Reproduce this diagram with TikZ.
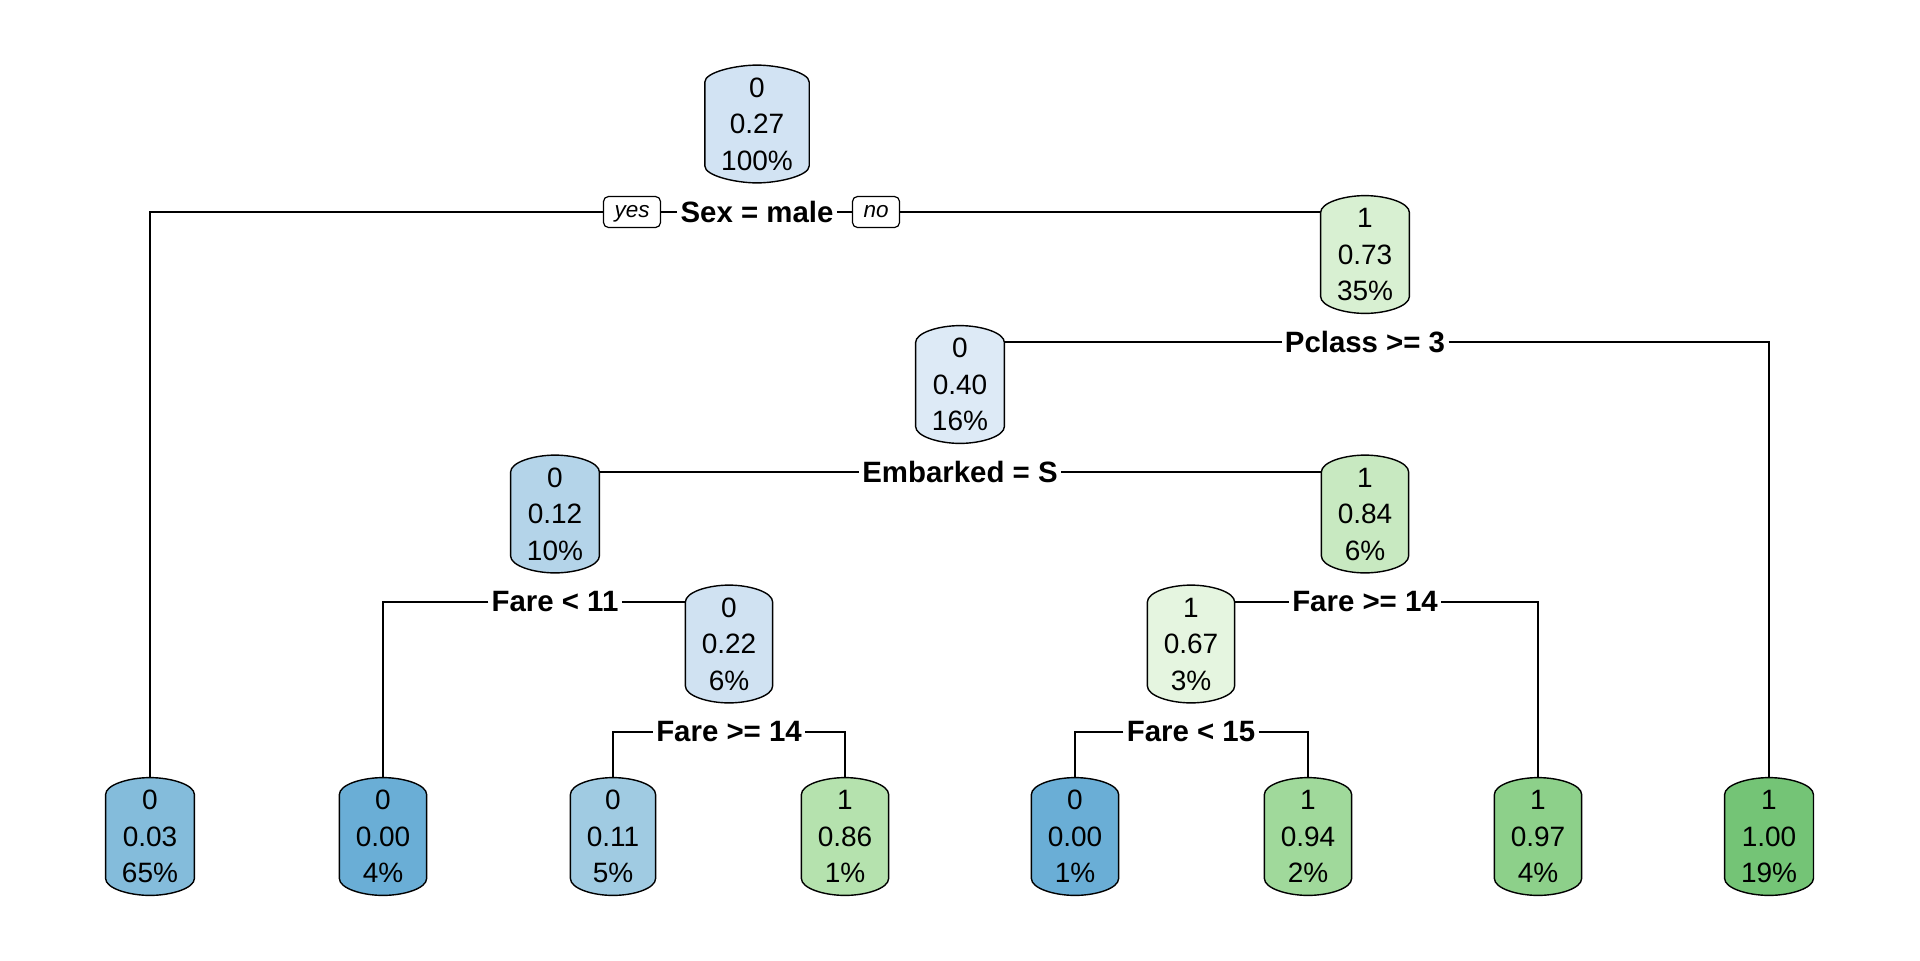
\documentclass[tikz,border=0pt]{standalone}
\usepackage{fontspec}
\setmainfont{Liberation Sans}
\pgfdeclarelayer{lines}
\pgfdeclarelayer{shapes}
\pgfsetlayers{lines,shapes,main}
\definecolor{cA}{HTML}{D2E3F3}
\definecolor{cB}{HTML}{D8F0D2}
\definecolor{cC}{HTML}{DDEAF6}
\definecolor{cD}{HTML}{B4D4E9}
\definecolor{cE}{HTML}{C8E9C1}
\definecolor{cF}{HTML}{D0E2F2}
\definecolor{cG}{HTML}{E5F5E0}
\definecolor{lA}{HTML}{84BCDB}
\definecolor{lB}{HTML}{6AAED6}
\definecolor{lC}{HTML}{A0CBE2}
\definecolor{lD}{HTML}{B5E2AE}
\definecolor{lE}{HTML}{A0D99B}
\definecolor{lF}{HTML}{8DD08A}
\definecolor{lG}{HTML}{74C476}
\tikzset{
  rbox/.style={inner xsep=8pt, inner ysep=0pt, minimum height=58.5pt, align=center,
    font=\fontsize{14}{18.25}\selectfont},
  splitlab/.style={fill=white, inner xsep=1.5pt, inner ysep=1pt,
    font=\fontsize{14.7}{17}\selectfont\bfseries},
  yn/.style={draw, fill=white, rounded corners=2.5pt, line width=0.6pt,
    font=\fontsize{11.25}{13}\selectfont\itshape, minimum height=15.5pt,
    text height=5.8pt, text depth=0pt,
    inner xsep=5.5pt, inner ysep=0pt},
  edge/.style={line width=0.7pt},
  cyl/.style={draw=black, line width=0.7pt, fill=#1},
}
\newcommand\cylshape[2]{%
  \path[cyl=#2] ([yshift=-8.5pt]#1.north west)
    .. controls ([yshift=-3.5pt]#1.north west) and ([xshift=-10.5pt]#1.north) .. (#1.north)
    .. controls ([xshift=10.5pt]#1.north) and ([yshift=-3.5pt]#1.north east) .. ([yshift=-8.5pt]#1.north east)
    -- ([yshift=8.5pt]#1.south east)
    .. controls ([yshift=3.5pt]#1.south east) and ([xshift=10.5pt]#1.south) .. (#1.south)
    .. controls ([xshift=-10.5pt]#1.south) and ([yshift=3.5pt]#1.south west) .. ([yshift=8.5pt]#1.south west)
    -- cycle;}
\begin{document}
\begin{tikzpicture}[x=0.5pt, y=-0.5pt]
\useasboundingbox (0,0) rectangle (1920,960);
% inner nodes
\node[rbox] (root) at (757,124) {0\\0.27\\100\%};
\node[rbox] (n073) at (1365,254.5) {1\\0.73\\35\%};
\node[rbox] (n040) at (960,384.5) {0\\0.40\\16\%};
\node[rbox] (n012) at (555,514) {0\\0.12\\10\%};
\node[rbox] (n084) at (1365,514) {1\\0.84\\6\%};
\node[rbox] (n022) at (729,644) {0\\0.22\\6\%};
\node[rbox] (n067) at (1191,644) {1\\0.67\\3\%};
% leaves
\node[rbox] (l1) at (150,836.5) {0\\0.03\\65\%};
\node[rbox] (l2) at (383,836.5) {0\\0.00\\4\%};
\node[rbox] (l3) at (613,836.5) {0\\0.11\\5\%};
\node[rbox] (l4) at (845,836.5) {1\\0.86\\1\%};
\node[rbox] (l5) at (1075,836.5) {0\\0.00\\1\%};
\node[rbox] (l6) at (1308,836.5) {1\\0.94\\2\%};
\node[rbox] (l7) at (1538,836.5) {1\\0.97\\4\%};
\node[rbox] (l8) at (1769,836.5) {1\\1.00\\19\%};
% split labels
\node[splitlab] (s1) at (757,212) {Sex = male};
\node[splitlab] (s2) at (1365,342) {Pclass >= 3};
\node[splitlab] (s3) at (960,472) {Embarked = S};
\node[splitlab] (s4) at (555,602) {Fare < 11};
\node[splitlab] (s5) at (1365,602) {Fare >= 14};
\node[splitlab] (s6) at (729,732) {Fare >= 14};
\node[splitlab] (s7) at (1191,732) {Fare < 15};
\node[yn] (yes) at (632,212) {yes};
\node[yn] (no) at (876,212) {no};
% shapes
\begin{pgfonlayer}{shapes}
\cylshape{root}{cA}
\cylshape{n073}{cB}
\cylshape{n040}{cC}
\cylshape{n012}{cD}
\cylshape{n084}{cE}
\cylshape{n022}{cF}
\cylshape{n067}{cG}
\cylshape{l1}{lA}
\cylshape{l2}{lB}
\cylshape{l3}{lC}
\cylshape{l4}{lD}
\cylshape{l5}{lB}
\cylshape{l6}{lE}
\cylshape{l7}{lF}
\cylshape{l8}{lG}
\end{pgfonlayer}
% connectors
\begin{pgfonlayer}{lines}
\draw[edge] (s1.west) -| (l1.north);
\draw[edge] (s1.east) -| (n073.north);
\draw[edge] (s2.west) -| (n040.north);
\draw[edge] (s2.east) -| (l8.north);
\draw[edge] (s3.west) -| (n012.north);
\draw[edge] (s3.east) -| (n084.north);
\draw[edge] (s4.west) -| (l2.north);
\draw[edge] (s4.east) -| (n022.north);
\draw[edge] (s5.west) -| (n067.north);
\draw[edge] (s5.east) -| (l7.north);
\draw[edge] (s6.west) -| (l3.north);
\draw[edge] (s6.east) -| (l4.north);
\draw[edge] (s7.west) -| (l5.north);
\draw[edge] (s7.east) -| (l6.north);
\end{pgfonlayer}
\end{tikzpicture}
\end{document}
